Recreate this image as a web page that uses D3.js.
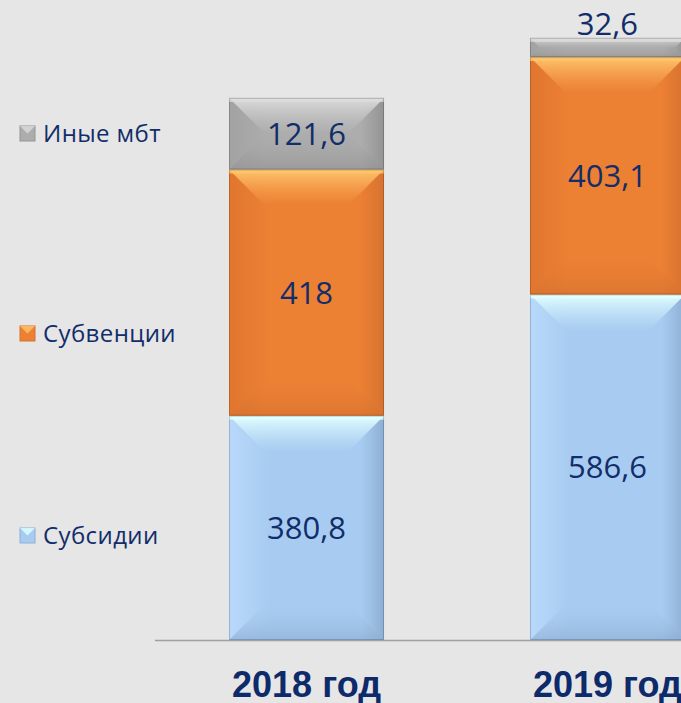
<!DOCTYPE html>
<html>
<head>
<meta charset="utf-8" />
<style>
    body { margin: 0; background: #e6e6e6; }
    svg { display: block; }
    .val { font-family: "Open Sans", sans-serif; font-size: 31px; fill: #122d6a; }
    .legend text { font-family: "Open Sans", sans-serif; font-size: 24px; letter-spacing: 0.4px; fill: #122d6a; }
    .x-axis text { font-family: "Liberation Sans", Arial, sans-serif; font-weight: bold; font-size: 36px; fill: #0d2a6a; }
</style>
</head>
<body>
<svg width="681" height="703"></svg>
<script src="https://cdnjs.cloudflare.com/ajax/libs/d3/7.8.5/d3.min.js"></script>
<script>
    var years = ["2018 год", "2019 год"];
    var seriesNames = ["Субсидии", "Субвенции", "Иные мбт"];
    var subsidies = [380.8, 586.6];
    var subventions = [418, 403.1];
    var other = [121.6, 32.6];

    var svg = d3.select("svg");
    var baseY = 640;

    // colours per series: base, highlight (top bevel), shade (bottom/side bevel)
    var palette = [
        { base: "#a8ccf1", hi: "#e2ffff", lo: "#8eafd4", side: "#b8d9fb" },
        { base: "#ec8033", hi: "#ffc66c", lo: "#d67230", side: "#e0762f" },
        { base: "#adadad", hi: "#dcdcdc", lo: "#949494", side: "#a2a2a2" }
    ];

    var rows = years.map(function (y, i) {
        return { year: y, s0: subsidies[i], s1: subventions[i], s2: other[i] };
    });
    var stack = d3.stack().keys(["s0", "s1", "s2"]);
    var layers = stack(rows);

    var x = d3.scaleBand()
        .domain(years)
        .range([155, 759])
        .paddingInner(0.485)
        .paddingOuter(0.246);

    var y = d3.scaleLinear()
        .domain([0, 1100])
        .range([baseY, baseY - 1100 * 0.589]);

    var defs = svg.append("defs");
    palette.forEach(function (p, k) {
        var gTop = defs.append("linearGradient").attr("id", "top" + k)
            .attr("x1", 0).attr("y1", 0).attr("x2", 0).attr("y2", 1);
        gTop.append("stop").attr("offset", 0).attr("stop-color", p.hi);
        gTop.append("stop").attr("offset", 1).attr("stop-color", p.base).attr("stop-opacity", 0.6);
        var gBot = defs.append("linearGradient").attr("id", "bot" + k)
            .attr("x1", 0).attr("y1", 0).attr("x2", 0).attr("y2", 1);
        gBot.append("stop").attr("offset", 0).attr("stop-color", p.base).attr("stop-opacity", 0.3);
        gBot.append("stop").attr("offset", 1).attr("stop-color", p.lo);
        var gBody = defs.append("linearGradient").attr("id", "body" + k)
            .attr("x1", 0).attr("y1", 0).attr("x2", 1).attr("y2", 0);
        gBody.append("stop").attr("offset", 0).attr("stop-color", p.side);
        gBody.append("stop").attr("offset", 0.25).attr("stop-color", p.base);
        gBody.append("stop").attr("offset", 0.85).attr("stop-color", p.base);
        gBody.append("stop").attr("offset", 1).attr("stop-color", p.lo);
    });

    // baseline
    svg.append("line")
        .attr("x1", 155).attr("x2", 681)
        .attr("y1", baseY + 0.5).attr("y2", baseY + 0.5)
        .attr("stroke", "#a0a0a0").attr("stroke-width", 1.5);

    var layerG = svg.selectAll(".layer")
        .data(layers)
        .enter().append("g")
        .attr("class", "layer");

    var seg = layerG.selectAll(".seg")
        .data(function (d) { return d.map(function (v) { return { k: d.index, v: v }; }); })
        .enter().append("g")
        .attr("class", "seg");

    seg.each(function (d) {
        var g = d3.select(this);
        var x0 = x(d.v.data.year), w = x.bandwidth(), x1 = x0 + w;
        var y0 = y(d.v[1]), y1 = y(d.v[0]), h = y1 - y0;
        var b = Math.min(36, h / 2);
        g.append("rect")
            .attr("x", x0).attr("y", y0).attr("width", w).attr("height", h)
            .attr("fill", "url(#body" + d.k + ")");
        // top bevel
        g.append("polygon")
            .attr("points", [[x0, y0], [x1, y0], [x1 - b, y0 + b], [x0 + b, y0 + b]].join(" "))
            .attr("fill", "url(#top" + d.k + ")");
        // bottom bevel
        g.append("polygon")
            .attr("points", [[x0, y1], [x1, y1], [x1 - b, y1 - b], [x0 + b, y1 - b]].join(" "))
            .attr("fill", "url(#bot" + d.k + ")").attr("opacity", 0.7);
        // thin bright line on top
        g.append("rect")
            .attr("x", x0).attr("y", y0).attr("width", w).attr("height", Math.min(4, h / 4))
            .attr("fill", palette[d.k].hi).attr("opacity", 0.8);
        // outline
        g.append("rect")
            .attr("x", x0 + 0.5).attr("y", y0 + 0.5).attr("width", w - 1).attr("height", h - 1)
            .attr("fill", "none").attr("stroke", "rgba(0,0,0,0.18)");
    });

    // value labels
    seg.append("text")
        .attr("class", "val")
        .attr("text-anchor", "middle")
        .attr("x", function (d) { return x(d.v.data.year) + x.bandwidth() / 2; })
        .attr("y", function (d) {
            var h = y(d.v[0]) - y(d.v[1]);
            if (h < 40) return y(d.v[1]) - 3;
            return (y(d.v[0]) + y(d.v[1])) / 2;
        })
        .attr("dy", function (d) {
            var h = y(d.v[0]) - y(d.v[1]);
            return h < 40 ? 0 : "0.36em";
        })
        .text(function (d) { return String(d.v[1] - d.v[0] > 0 ? +(d.v[1] - d.v[0]).toFixed(1) : 0).replace(".", ","); });

    // x axis labels
    var xAxis = d3.axisBottom(x).tickSize(0).tickPadding(0);
    svg.append("g")
        .attr("class", "x-axis")
        .attr("transform", "translate(0," + baseY + ")")
        .call(xAxis)
        .call(function (g) { g.select(".domain").remove(); })
        .selectAll("text")
        .attr("dy", null)
        .attr("y", 57);

    // legend
    var legendY = [535, 333, 133];
    var leg = svg.append("g").attr("class", "legend")
        .selectAll("g")
        .data(seriesNames)
        .enter().append("g")
        .attr("transform", function (d, i) { return "translate(20," + legendY[i] + ")"; });

    leg.append("rect")
        .attr("x", 0).attr("y", -7).attr("width", 15).attr("height", 15)
        .attr("fill", function (d, i) { return palette[i].base; })
        .attr("stroke", function (d, i) { return palette[i].lo; });
    leg.append("polygon")
        .attr("points", "0,-7 15,-7 7.5,0.5")
        .attr("fill", function (d, i) { return palette[i].hi; })
        .attr("opacity", 0.8);
    leg.append("text")
        .attr("x", 23)
        .attr("dy", "0.36em")
        .text(function (d) { return d; });
</script>
</body>
</html>
